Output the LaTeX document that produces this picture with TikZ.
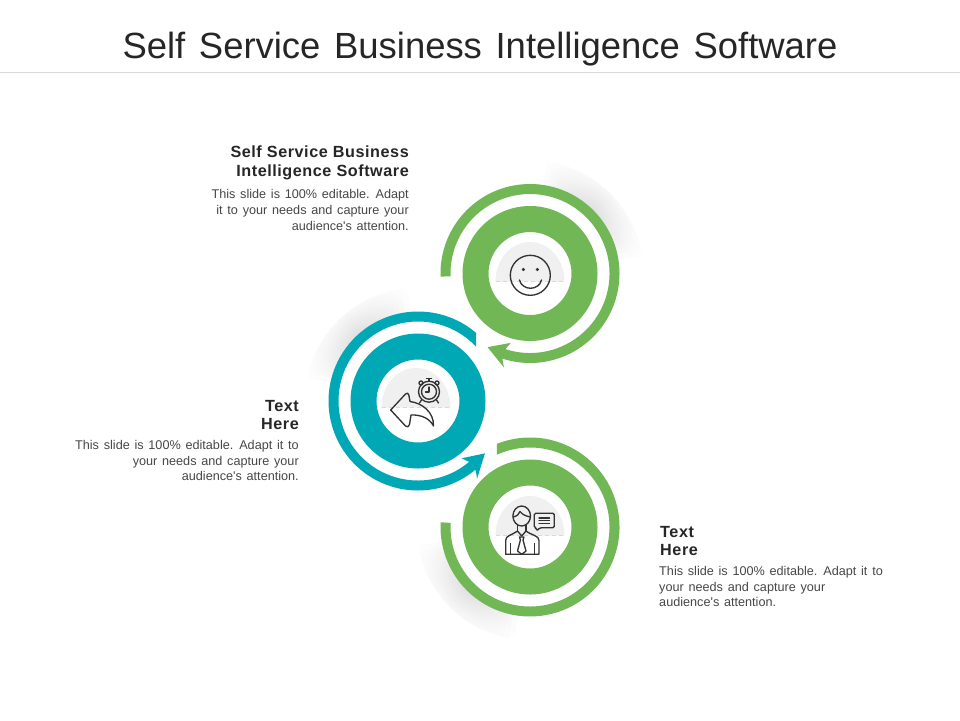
\documentclass[tikz,border=0pt]{standalone}
\usepackage{fontspec}
\setmainfont{Liberation Sans}
\newfontfamily\titlefont[WordSpace=1.55]{Liberation Sans}
\newfontfamily\headfont[LetterSpace=3.5]{Liberation Sans Bold}
\newfontfamily\bodyfont[WordSpace=1.35]{Liberation Sans}
\definecolor{ringgreen}{HTML}{72B756}
\definecolor{ringteal}{HTML}{00A8B5}
\definecolor{halfgray}{HTML}{F0F0F0}
\definecolor{iconline}{HTML}{333333}
\tikzset{
	heading/.style={inner sep=0,text=black!85,font=\headfont\fontsize{13.8}{16.15}\selectfont},
	bodytext/.style={inner sep=0,text=black!72,font=\bodyfont\fontsize{10.8}{13.6}\selectfont},
	icon/.style={draw=iconline,line width=1.15pt,line join=round,line cap=round}
}
\begin{document}
\begin{tikzpicture}[x=0.03cm,y=-0.03cm]
% #1 middle angle, #2 half of the span
\def\shadowarc#1#2{
	\foreach \r in {90,92,...,112} {
		\foreach \t in {-36,-33,...,33} {
			\pgfmathsetmacro\v{10*(1-abs(\t+1.5)/#2)^0.6*(1.2-(\r-90)/26)}
			\draw[line width=2pt,black!\v] (#1+\t:\r) arc[start angle=#1+\t,end angle=#1+\t+3.6,radius=\r];
		}
	}
}
% #1 start of the outer edge, #2 start of the inner edge, #3 end angle, #4 tip angle, #5 barb angle
\def\ringarrow#1#2#3#4#5{
	(#1:89.5) arc[start angle=#1,end angle=#3,radius=89.5]
	-- (#5:97.5) -- (#4:85) -- (#5:72) -- (#3:79.5)
	arc[start angle=#3,end angle=#2,radius=79.5] -- cycle
}
\def\halfdisc#1#2{
	\fill[halfgray] (#1-34.5,#2) arc[start angle=180,end angle=360,x radius=34.5,y radius=39.5] -- cycle;
	\draw[white!85!black,line width=0.5pt,dash pattern=on 4pt off 2pt] (#1-34.5,#2) -- (#1+34.5,#2);
}
\useasboundingbox (0,0) rectangle (960,720);
\fill[white] (0,0) rectangle (960,720);
\node (title) at (480,49) [inner sep=0,text=black!85,font=\titlefont\fontsize{31.1}{34}\selectfont] {Self Service Business Intelligence Software};
\draw[black!15,line width=0.7pt] (0,72) -- (960,72);
% top circle
\begin{scope}[shift={(530,273.5)}]
\shadowarc{314.5}{36}
\fill[ringgreen] \ringarrow{178}{178}{468}{480}{465.5};
\fill[ringgreen,even odd rule] (0,0) circle[radius=67.5] (0,0) circle[radius=41.5];
\end{scope}
% middle circle
\begin{scope}[shift={(418,401)}]
\shadowarc{228}{36}
\fill[ringteal] \ringarrow{310.4}{316.9}{50}{38}{52.7};
\fill[ringteal,even odd rule] (0,0) circle[radius=67.5] (0,0) circle[radius=41.5];
\end{scope}
% bottom circle
\begin{scope}[shift={(530,527)}]
\shadowarc{134}{36}
\fill[ringgreen] (248.3:89.5) arc[start angle=248.3,end angle=543,radius=89.5]
	-- (543:79.5) arc[start angle=543,end angle=245.4,radius=79.5] -- cycle;
\fill[ringgreen,even odd rule] (0,0) circle[radius=67.5] (0,0) circle[radius=41.5];
\end{scope}
\halfdisc{530}{281.5}
\halfdisc{416}{407.5}
\halfdisc{530}{535.5}
% smiley
\draw[icon] (530.3,275.3) circle[radius=20];
\fill[iconline] (523.3,269.5) circle[radius=1.7];
\fill[iconline] (537.3,269.5) circle[radius=1.7];
\draw[icon] (519.5,280) .. controls (522,291) and (539,291) .. (541.5,280);
% arrow and clock
\draw[icon] (390.7,410) -- (405.5,394) .. controls (407,392.5) and (408.5,393) .. (408.8,395) -- (410,401.5)
	.. controls (422,403) and (434,412) .. (433.5,426) .. controls (430,419) and (422,414.5) .. (411,415)
	-- (409.5,424.5) .. controls (409,427) and (407,427.5) .. (405.5,426) -- cycle;
\draw[icon] (429,391.7) circle[radius=10.5];
\draw[icon] (429,391.7) circle[radius=7.5];
\draw[icon] (429,387) -- (429,392) -- (425.5,392);
\draw[icon] (421,383) circle[radius=2];
\draw[icon] (437,383) circle[radius=2];
\draw[icon] (429,381.2) -- (429,378.5) (426.5,378.5) -- (431.5,378.5);
\draw[icon] (421.5,400) -- (419.5,403) (436.5,400) -- (438.5,403);
% man with speech bubble
\draw[icon] (521.7,516) ellipse[x radius=8.8,y radius=10];
\draw[icon] (513.2,517) .. controls (517,516) and (519,514.5) .. (520,511.5) .. controls (523,515.5) and (527,516) .. (530.2,517);
\draw[icon] (517.5,525) -- (517.5,531) (526,525) -- (526,531);
\draw[icon] (505.7,554.3) -- (505.7,540.5) .. controls (505.7,535.5) and (511,535.5) .. (517.5,531) -- (521.7,536) -- (526,531)
	.. controls (532,535.5) and (539,535.5) .. (539,540.5) -- (539,554.3) -- cycle;
\draw[icon] (510.5,543.5) -- (510.5,554.3) (534.3,543.5) -- (534.3,554.3);
\draw[icon] (519.5,537) -- (523.9,537) -- (523,540) -- (526,551) -- (521.7,554.3) -- (517.5,551) -- (520.4,540) -- cycle;
\draw[icon,rounded corners=1.2pt] (534.3,513.3) -- (554.3,513.3) -- (554.3,527.7) -- (540,527.7) -- (536.5,531) -- (536.5,527.7) -- (534.3,527.7) -- cycle;
\draw[icon] (539,518) -- (549.5,518) (539,520.7) -- (549.5,520.7) (539,523.4) -- (549.5,523.4);
% texts
\node (headone) at (409,163) [left,heading,align=right] {Self Service Business\\Intelligence Software};
\node (bodyone) at (409,210) [left,bodytext,align=right] {This slide is 100\% editable. Adapt\\it to your needs and capture your\\audience's attention.};
\node (headtwo) at (299,415) [left,heading,align=right] {Text\\Here};
\node (bodytwo) at (299,460.5) [left,bodytext,align=right] {This slide is 100\% editable. Adapt it to\\your needs and capture your\\audience's attention.};
\node (headthree) at (660,541) [right,heading,align=left] {Text\\Here};
\node (bodythree) at (659,586.5) [right,bodytext,align=left] {This slide is 100\% editable. Adapt it to\\your needs and capture your\\audience's attention.};
\end{tikzpicture}
\end{document}
